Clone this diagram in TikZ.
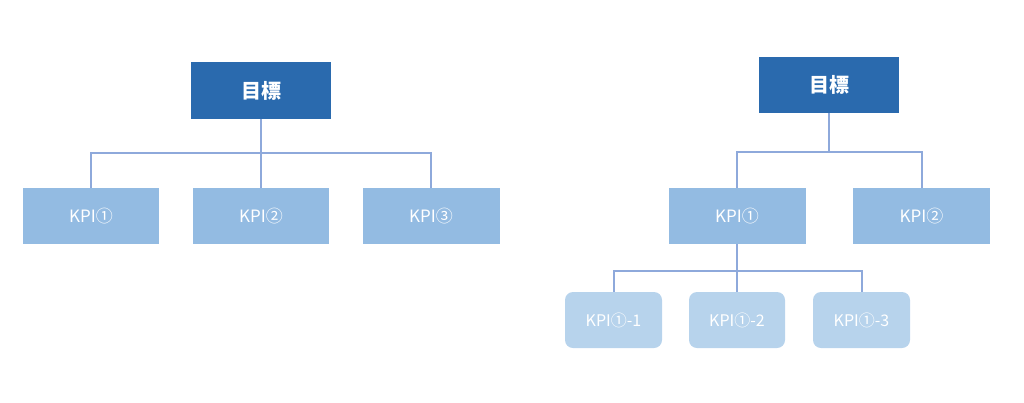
\documentclass[tikz,border=0pt]{standalone}
\usepackage{fontspec}
\setmainfont{Noto Sans CJK JP}
\definecolor{goalc}{HTML}{2A6AAE}
\definecolor{kpic}{HTML}{93BBE2}
\definecolor{subc}{HTML}{B7D3EC}
\definecolor{linec}{HTML}{8EA9DB}
\begin{document}
\begin{tikzpicture}[x=1pt,y=-1pt,
  goalbox/.style={fill=goalc,draw=none,text=white,inner sep=0pt,font=\fontsize{20}{22}\selectfont\bfseries},
  kpibox/.style={fill=kpic,draw=none,text=white,inner sep=0pt,font=\fontsize{17}{19}\selectfont},
  subbox/.style={fill=subc,draw=none,text=white,inner sep=0pt,rounded corners=8pt,font=\fontsize{16}{18}\selectfont},
  conn/.style={draw=linec,line width=2pt}]
\useasboundingbox (0,0) rectangle (1024,402);
% left tree
\node[goalbox,minimum width=140pt,minimum height=57pt] (g1) at (261,90.5) {目標};
\node[kpibox,minimum width=136pt,minimum height=56pt] (a1) at (91,216) {KPI①};
\node[kpibox,minimum width=136pt,minimum height=56pt] (a2) at (261,216) {KPI②};
\node[kpibox,minimum width=137pt,minimum height=56pt] (a3) at (431,216) {KPI③};
\coordinate (j1) at (261,153);
\draw[conn] (g1.south) -- (a2.north);
\draw[conn] (a1.north) |- (j1) -| (a3.north);
% right tree
\node[goalbox,minimum width=140pt,minimum height=56pt] (g2) at (829,85) {目標};
\node[kpibox,minimum width=137pt,minimum height=56pt] (b1) at (737,216) {KPI①};
\node[kpibox,minimum width=137pt,minimum height=56pt] (b2) at (921.5,216) {KPI②};
\node[subbox,minimum width=97pt,minimum height=56pt] (c1) at (613.5,320) {KPI①-1};
\node[subbox,minimum width=96pt,minimum height=56pt] (c2) at (737,320) {KPI①-2};
\node[subbox,minimum width=97pt,minimum height=56pt] (c3) at (861.5,320) {KPI①-3};
\coordinate (j2) at (829,152);
\coordinate (j3) at (737,271);
\draw[conn] (g2.south) -- (j2);
\draw[conn] (b1.north) |- (j2) -| (b2.north);
\draw[conn] (b1.south) -- (c2.north);
\draw[conn] (c1.north) |- (j3) -| (c3.north);
\end{tikzpicture}
\end{document}
